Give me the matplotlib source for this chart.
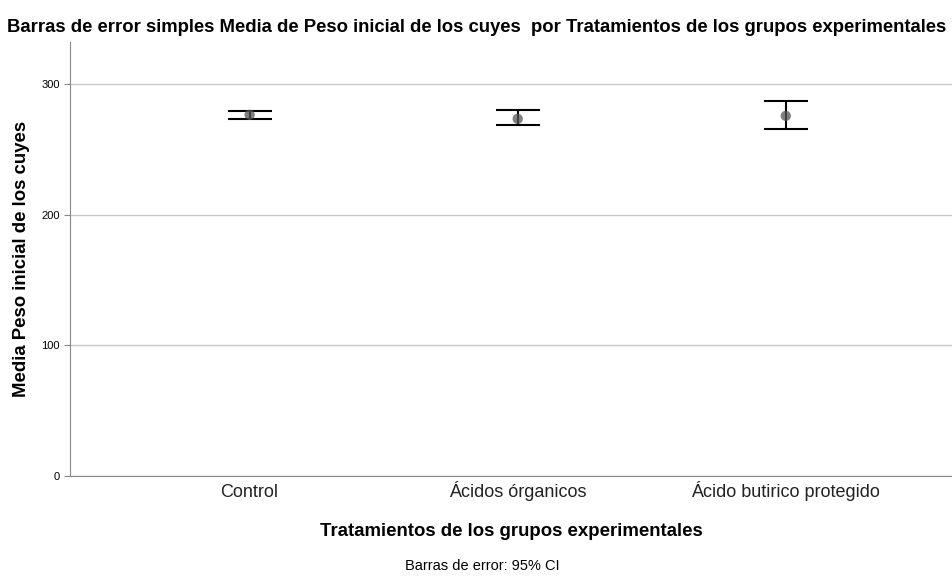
import matplotlib.pyplot as plt

plt.rcParams['font.family'] = ['Liberation Sans', 'DejaVu Sans']

grupos = ['Control', 'Ácidos órganicos', 'Ácido butirico protegido']
medias = [276.3, 273.2, 275.5]
ic_inf = [273.4, 268.4, 265.3]
ic_sup = [279.1, 280.1, 286.5]

err_low = [m - lo for m, lo in zip(medias, ic_inf)]
err_high = [hi - m for m, hi in zip(medias, ic_sup)]
x = list(range(len(grupos)))

fig = plt.figure(figsize=(9.53, 5.76), dpi=100)
ax = fig.add_axes([70 / 953, 100 / 576, 882 / 953, 434 / 576])

# error bars (95% CI) and mean points
ax.errorbar(x, medias, yerr=[err_low, err_high], fmt='none', ecolor='black',
            elinewidth=1.5, capsize=16, capthick=1.5, zorder=3)
ax.scatter(x, medias, s=55, color='#555555', alpha=0.75, zorder=4, edgecolors='none')

ax.set_xlim(-0.67, 2.62)
ax.set_ylim(0, 332)
ax.set_yticks([0, 100, 200, 300])
ax.set_xticks(x)
ax.set_xticklabels(grupos, fontsize=13, color='#222222', va='baseline')
ax.tick_params(axis='y', labelsize=8, length=4, color='#888888')
ax.tick_params(axis='x', length=0, pad=15)

ax.grid(axis='y', color='#c8c8c8', linewidth=1)
ax.set_axisbelow(True)
for s in ['top', 'right']:
    ax.spines[s].set_visible(False)
for s in ['left', 'bottom']:
    ax.spines[s].set_color('#888888')

ax.set_ylabel('Media Peso inicial de los cuyes', fontsize=13.4, fontweight='bold', labelpad=8)
ax.set_xlabel('Tratamientos de los grupos experimentales', fontsize=13.4,
              fontweight='bold', labelpad=16)
fig.text(0.5, 1 - 28 / 576, 'Barras de error simples Media de Peso inicial de los cuyes  por Tratamientos de los grupos experimentales',
         ha='center', va='center', fontsize=13.3, fontweight='bold')
fig.text(482 / 953, 1 - 566 / 576, 'Barras de error: 95% CI', ha='center', va='center', fontsize=10.5)

fig.savefig('out.png', dpi=100)
